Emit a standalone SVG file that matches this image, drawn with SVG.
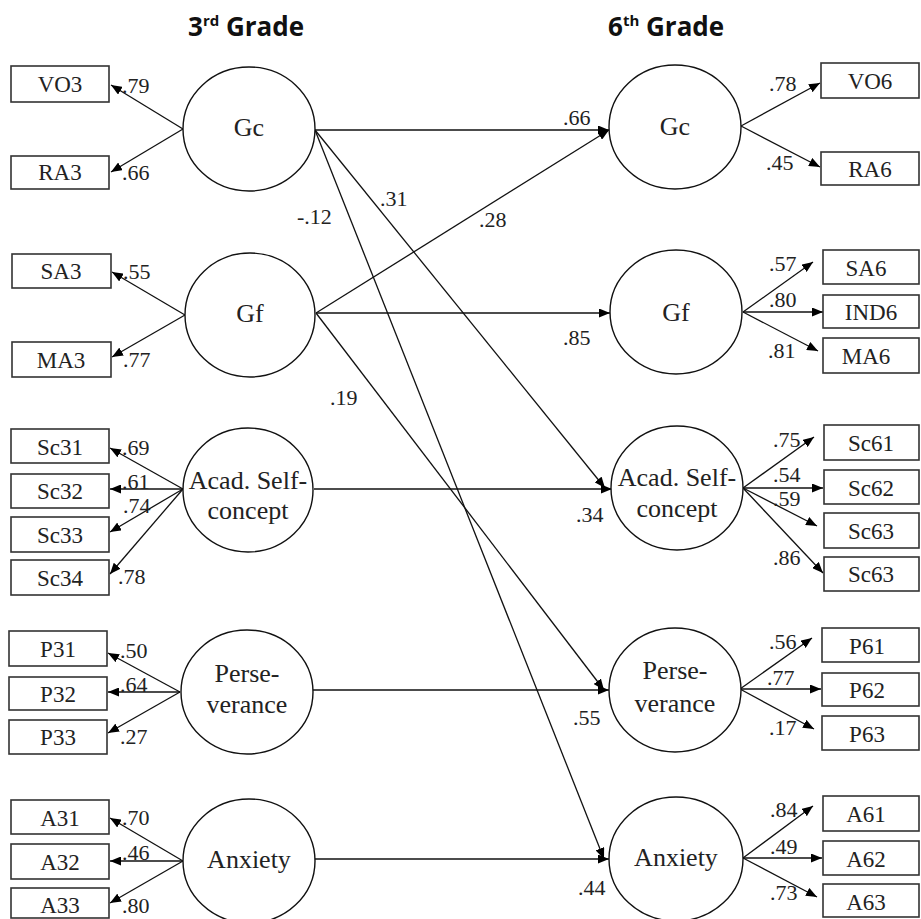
<svg xmlns="http://www.w3.org/2000/svg" width="921" height="919" viewBox="0 0 921 919">
  <defs>
    <marker id="arr" markerUnits="userSpaceOnUse" markerWidth="11" markerHeight="9" refX="11" refY="4.5" orient="auto">
      <path d="M0,0 L11,4.5 L0,9 z" fill="#000"/>
    </marker>
    <style>
      .box rect { fill: #fff; stroke: #333; stroke-width: 1.6; }
      .box text { font-family: "Liberation Serif", "Times New Roman", serif; font-size: 23px; fill: #222; text-anchor: middle; }
      .lat ellipse { fill: #fff; stroke: #111; stroke-width: 1.4; }
      .lat text { font-family: "Liberation Serif", "Times New Roman", serif; font-size: 26px; fill: #222; text-anchor: middle; }
      .conn line { stroke: #111; stroke-width: 1.3; marker-end: url(#arr); }
      .lbl { font-family: "Liberation Serif", "Times New Roman", serif; font-size: 22px; fill: #222; }
      .title { font-family: "Open Sans", "Liberation Sans", sans-serif; font-weight: bold; font-size: 26px; fill: #111; }
      .title tspan.sup { font-size: 15px; }
    </style>
  </defs>
  <rect width="921" height="919" fill="#fff"/>

  <!-- column titles -->
  <text class="title" x="188" y="36">3<tspan class="sup" dy="-10">rd</tspan><tspan dy="10"> Grade</tspan></text>
  <text class="title" x="608" y="36">6<tspan class="sup" dy="-10">th</tspan><tspan dy="10"> Grade</tspan></text>

  <!-- connectors -->
  <g id="connectors" class="conn">
    <!-- grade 3 loadings -->
    <line x1="183" y1="129" x2="111" y2="85"/>
    <line x1="183" y1="129" x2="111" y2="172"/>
    <line x1="185" y1="315" x2="112" y2="272"/>
    <line x1="185" y1="315" x2="112" y2="357"/>
    <line x1="183" y1="489" x2="110" y2="448"/>
    <line x1="183" y1="489" x2="110" y2="489"/>
    <line x1="183" y1="489" x2="110" y2="532"/>
    <line x1="183" y1="489" x2="110" y2="574"/>
    <line x1="180" y1="692" x2="108" y2="653"/>
    <line x1="180" y1="692" x2="108" y2="692"/>
    <line x1="180" y1="692" x2="108" y2="733"/>
    <line x1="183" y1="861" x2="110" y2="818"/>
    <line x1="183" y1="861" x2="110" y2="861"/>
    <line x1="183" y1="861" x2="110" y2="903"/>
    <!-- grade 6 loadings -->
    <line x1="741" y1="126" x2="820" y2="83"/>
    <line x1="741" y1="126" x2="820" y2="167"/>
    <line x1="743" y1="312" x2="813" y2="262"/>
    <line x1="743" y1="312" x2="823" y2="312"/>
    <line x1="743" y1="312" x2="818" y2="351"/>
    <line x1="743" y1="488" x2="814" y2="437"/>
    <line x1="743" y1="488" x2="823" y2="488"/>
    <line x1="743" y1="488" x2="817" y2="526"/>
    <line x1="743" y1="488" x2="823" y2="573"/>
    <line x1="740" y1="689" x2="812" y2="638"/>
    <line x1="740" y1="689" x2="821" y2="689"/>
    <line x1="740" y1="689" x2="814" y2="729"/>
    <line x1="743" y1="858" x2="813" y2="806"/>
    <line x1="743" y1="858" x2="822" y2="858"/>
    <line x1="743" y1="858" x2="817" y2="897"/>
    <!-- structural paths -->
    <line x1="315" y1="130" x2="609" y2="130"/>
    <line x1="316" y1="313" x2="609" y2="130"/>
    <line x1="316" y1="313" x2="610" y2="313"/>
    <line x1="315" y1="130" x2="605" y2="488"/>
    <line x1="315" y1="130" x2="604" y2="859"/>
    <line x1="316" y1="313" x2="604" y2="690"/>
    <line x1="314" y1="489" x2="612" y2="489"/>
    <line x1="313" y1="690" x2="609" y2="690"/>
    <line x1="315" y1="859" x2="609" y2="859"/>
  </g>

  <!-- grade 3 latent factors -->
  <g id="gc3" class="lat"><ellipse cx="249" cy="129" rx="66" ry="62"/><text x="249" y="136">Gc</text></g>
  <g id="gf3" class="lat"><ellipse cx="250" cy="315" rx="65" ry="62"/><text x="250" y="322">Gf</text></g>
  <g id="asc3" class="lat"><ellipse cx="248" cy="490" rx="65" ry="62"/><text x="248" y="489">Acad. Self-</text><text x="248" y="519">concept</text></g>
  <g id="per3" class="lat"><ellipse cx="247" cy="692" rx="66" ry="62"/><text x="247" y="682">Perse-</text><text x="247" y="713">verance</text></g>
  <g id="anx3" class="lat"><ellipse cx="249" cy="861" rx="66" ry="62"/><text x="249" y="868">Anxiety</text></g>

  <!-- grade 6 latent factors -->
  <g id="gc6" class="lat"><ellipse cx="675" cy="127" rx="66" ry="62"/><text x="675" y="135">Gc</text></g>
  <g id="gf6" class="lat"><ellipse cx="676" cy="312" rx="66" ry="62"/><text x="676" y="321">Gf</text></g>
  <g id="asc6" class="lat"><ellipse cx="677" cy="488" rx="66" ry="62"/><text x="677" y="486">Acad. Self-</text><text x="677" y="517">concept</text></g>
  <g id="per6" class="lat"><ellipse cx="675" cy="690" rx="66" ry="62"/><text x="675" y="679">Perse-</text><text x="675" y="712">verance</text></g>
  <g id="anx6" class="lat"><ellipse cx="676" cy="859" rx="67" ry="62"/><text x="676" y="866">Anxiety</text></g>

  <!-- grade 3 indicators -->
  <g id="vo3" class="box"><rect x="11" y="66" width="98" height="36"/><text x="60" y="92">VO3</text></g>
  <g id="ra3" class="box"><rect x="11" y="156" width="98" height="33"/><text x="60" y="180">RA3</text></g>
  <g id="sa3" class="box"><rect x="12" y="254" width="99" height="34"/><text x="61" y="279">SA3</text></g>
  <g id="ma3" class="box"><rect x="12" y="342" width="99" height="35"/><text x="61" y="368">MA3</text></g>
  <g id="sc31" class="box"><rect x="11" y="429" width="98" height="34"/><text x="60" y="455">Sc31</text></g>
  <g id="sc32" class="box"><rect x="11" y="474" width="98" height="34"/><text x="60" y="499">Sc32</text></g>
  <g id="sc33" class="box"><rect x="11" y="517" width="98" height="35"/><text x="60" y="543">Sc33</text></g>
  <g id="sc34" class="box"><rect x="11" y="560" width="98" height="35"/><text x="60" y="586">Sc34</text></g>
  <g id="p31" class="box"><rect x="9" y="631" width="98" height="35"/><text x="58" y="657">P31</text></g>
  <g id="p32" class="box"><rect x="9" y="677" width="98" height="33"/><text x="58" y="702">P32</text></g>
  <g id="p33" class="box"><rect x="9" y="720" width="98" height="34"/><text x="58" y="745">P33</text></g>
  <g id="a31" class="box"><rect x="11" y="800" width="98" height="34"/><text x="60" y="826">A31</text></g>
  <g id="a32" class="box"><rect x="11" y="844" width="98" height="35"/><text x="60" y="870">A32</text></g>
  <g id="a33" class="box"><rect x="11" y="888" width="98" height="30"/><text x="60" y="913">A33</text></g>

  <!-- grade 6 indicators -->
  <g id="vo6" class="box"><rect x="821" y="63" width="98" height="35"/><text x="870" y="89">VO6</text></g>
  <g id="ra6" class="box"><rect x="821" y="152" width="98" height="33"/><text x="870" y="177">RA6</text></g>
  <g id="sa6" class="box"><rect x="823" y="250" width="96" height="34"/><text x="866" y="276">SA6</text></g>
  <g id="ind6" class="box"><rect x="823" y="295" width="96" height="33"/><text x="871" y="320">IND6</text></g>
  <g id="ma6" class="box"><rect x="823" y="338" width="96" height="35"/><text x="866" y="364">MA6</text></g>
  <g id="sc61" class="box"><rect x="824" y="425" width="95" height="35"/><text x="871" y="451">Sc61</text></g>
  <g id="sc62" class="box"><rect x="824" y="470" width="95" height="34"/><text x="871" y="496">Sc62</text></g>
  <g id="sc63" class="box"><rect x="824" y="513" width="95" height="35"/><text x="871" y="539">Sc63</text></g>
  <g id="sc64" class="box"><rect x="824" y="557" width="95" height="34"/><text x="871" y="582">Sc63</text></g>
  <g id="p61" class="box"><rect x="822" y="628" width="97" height="34"/><text x="867" y="654">P61</text></g>
  <g id="p62" class="box"><rect x="822" y="673" width="97" height="33"/><text x="867" y="698">P62</text></g>
  <g id="p63" class="box"><rect x="822" y="716" width="97" height="34"/><text x="867" y="742">P63</text></g>
  <g id="a61" class="box"><rect x="823" y="796" width="96" height="35"/><text x="866" y="822">A61</text></g>
  <g id="a62" class="box"><rect x="823" y="841" width="96" height="34"/><text x="866" y="867">A62</text></g>
  <g id="a63" class="box"><rect x="823" y="884" width="96" height="33"/><text x="866" y="910">A63</text></g>

  <!-- path coefficients -->
  <g id="labels" class="lbl">
    <text x="122" y="93">.79</text>
    <text x="122" y="180">.66</text>
    <text x="123" y="279">.55</text>
    <text x="123" y="367">.77</text>
    <text x="122" y="455">.69</text>
    <text x="122" y="489">.61</text>
    <text x="123" y="513">.74</text>
    <text x="118" y="584">.78</text>
    <text x="120" y="658">.50</text>
    <text x="120" y="692">.64</text>
    <text x="120" y="744">.27</text>
    <text x="122" y="825">.70</text>
    <text x="122" y="860">.46</text>
    <text x="122" y="913">.80</text>

    <text x="769" y="91">.78</text>
    <text x="766" y="170">.45</text>
    <text x="769" y="271">.57</text>
    <text x="769" y="307">.80</text>
    <text x="768" y="358">.81</text>
    <text x="773" y="447">.75</text>
    <text x="773" y="482">.54</text>
    <text x="773" y="506">.59</text>
    <text x="773" y="565">.86</text>
    <text x="769" y="649">.56</text>
    <text x="767" y="685">.77</text>
    <text x="769" y="735">.17</text>
    <text x="770" y="817">.84</text>
    <text x="770" y="854">.49</text>
    <text x="770" y="900">.73</text>

    <text x="563" y="125">.66</text>
    <text x="380" y="206">.31</text>
    <text x="297" y="224">-.12</text>
    <text x="479" y="227">.28</text>
    <text x="563" y="345">.85</text>
    <text x="330" y="405">.19</text>
    <text x="576" y="522">.34</text>
    <text x="573" y="725">.55</text>
    <text x="578" y="895">.44</text>
  </g>
</svg>
